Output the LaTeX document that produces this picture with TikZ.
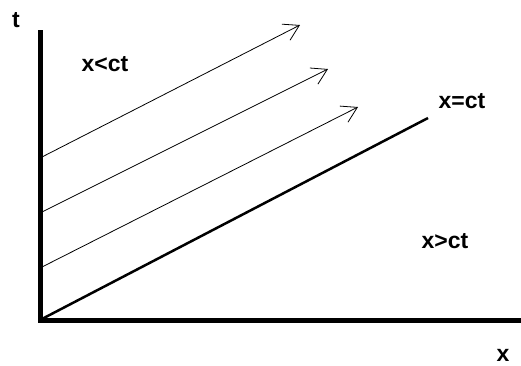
\documentclass[tikz,border=0pt]{standalone}
\usepackage{fontspec}
\setmainfont{Liberation Sans}
\usetikzlibrary{arrows.meta,positioning,calc}

\begin{document}
\begin{tikzpicture}[
      x=1pt,y=-1pt,
      every node/.style={font=\fontsize{23}{26}\selectfont\bfseries,inner sep=0pt},
      axis/.style={line width=5pt},
      cone/.style={line width=2.5pt},
      ray/.style={line width=0.8pt,-{Straight Barb[length=15pt,width=18pt,line width=0.8pt]}}
    ]
      \useasboundingbox (0,0) rectangle (521,365);

      \coordinate (O)  at (40,320);
      \coordinate (T)  at (40,30);
      \coordinate (X)  at (521,320);
      \coordinate (C)  at (428,118);

      % axes
      \draw[axis] (T)--(O)--(X);
      \draw[cone] (O)--(C);

      % light rays
      \coordinate (a1) at (40,158);  \coordinate (b1) at (300,25);
      \coordinate (a2) at (40,213);  \coordinate (b2) at (328,69);
      \coordinate (a3) at (40,268);  \coordinate (b3) at (358,107);
      \draw[ray] (a1)--(b1);
      \draw[ray] (a2)--(b2);
      \draw[ray] (a3)--(b3);

      \node (tl)   at (16,20)   {t};
      \node (xl)   at (503,355) {x};
      \node (less) at (105,64)  {x<ct};
      \node (eq)   at (462,101) {x=ct};
      \node (gt)   at (445,241) {x>ct};
    \end{tikzpicture}
\end{document}
